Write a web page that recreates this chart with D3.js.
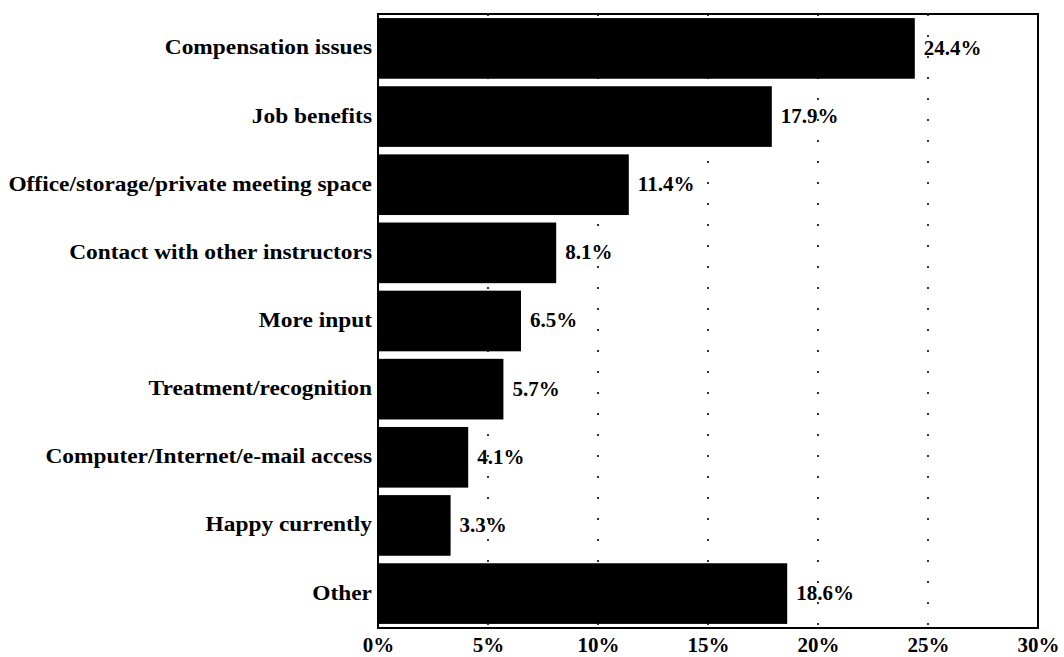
<!DOCTYPE html>
<html>
<head>
<meta charset="utf-8">
<script src="https://cdn.jsdelivr.net/npm/d3@7"></script>
<style>
  html, body { margin: 0; padding: 0; background: #fff; }
  svg text { font-family: "Liberation Serif", "Times New Roman", serif; font-weight: bold; fill: #000; }
</style>
</head>
<body>
<svg id="chart" width="1064" height="657"></svg>
<script>
// Survey responses: what instructors would most like improved
const categories = [
  "Compensation issues",
  "Job benefits",
  "Office/storage/private meeting space",
  "Contact with other instructors",
  "More input",
  "Treatment/recognition",
  "Computer/Internet/e-mail access",
  "Happy currently",
  "Other"
];
const percents = [24.4, 17.9, 11.4, 8.1, 6.5, 5.7, 4.1, 3.3, 18.6];
const tickValues = [0, 5, 10, 15, 20, 25, 30];

const svg = d3.select("#chart");
const margin = { top: 14, right: 26, bottom: 29, left: 378 };
const W = 1064, H = 657;
const innerW = W - margin.left - margin.right;
const innerH = H - margin.top - margin.bottom;

// old-style serif set a little wider than Times
const labelStretch = 1.17;

const g = svg.append("g").attr("transform", `translate(${margin.left},${margin.top})`);

const x = d3.scaleLinear().domain([0, 30]).range([0, innerW]);
const y = d3.scaleBand().domain(categories).range([0, innerH]).paddingInner(0.11).paddingOuter(0.06);

// dotted vertical gridlines
g.append("g").selectAll("line")
  .data(tickValues.filter(t => t > 0 && t < 30))
  .join("line")
  .attr("x1", d => x(d)).attr("x2", d => x(d))
  .attr("y1", 0).attr("y2", innerH)
  .attr("stroke", "#000")
  .attr("stroke-width", 1.6)
  .attr("stroke-dasharray", "2,19");

// bars
g.append("g").selectAll("rect")
  .data(percents)
  .join("rect")
  .attr("x", 0)
  .attr("y", (d, i) => y(categories[i]))
  .attr("width", d => x(d))
  .attr("height", y.bandwidth())
  .attr("fill", "#000");

// value labels
g.append("g").selectAll("text")
  .data(percents)
  .join("text")
  .attr("transform", (d, i) => `translate(${x(d) + 9},${y(categories[i]) + y.bandwidth() / 2}) scale(1.05,1)`)
  .attr("dy", "0.32em")
  .attr("font-size", 20)
  .text(d => d.toFixed(1) + "%");

// category axis
const yAxis = g.append("g").call(d3.axisLeft(y).tickSize(0).tickPadding(6));
yAxis.select(".domain").remove();
yAxis.selectAll("text")
  .attr("font-size", 20)
  .attr("font-family", null)
  .attr("x", 0)
  .attr("dy", "0.3em")
  .attr("transform", `translate(-6,0) scale(${labelStretch},1)`);

// percentage axis
const xAxis = g.append("g").attr("transform", `translate(0,${innerH})`)
  .call(d3.axisBottom(x).tickValues(tickValues).tickSize(0).tickPadding(10).tickFormat(d => d + "%"));
xAxis.select(".domain").remove();
xAxis.selectAll("text").attr("font-size", 20).attr("font-family", null)
  .attr("transform", "scale(1.05,1)");

// plot frame
g.append("rect")
  .attr("x", 0).attr("y", 0)
  .attr("width", innerW).attr("height", innerH)
  .attr("fill", "none")
  .attr("stroke", "#000")
  .attr("stroke-width", 2);
</script>
</body>
</html>
